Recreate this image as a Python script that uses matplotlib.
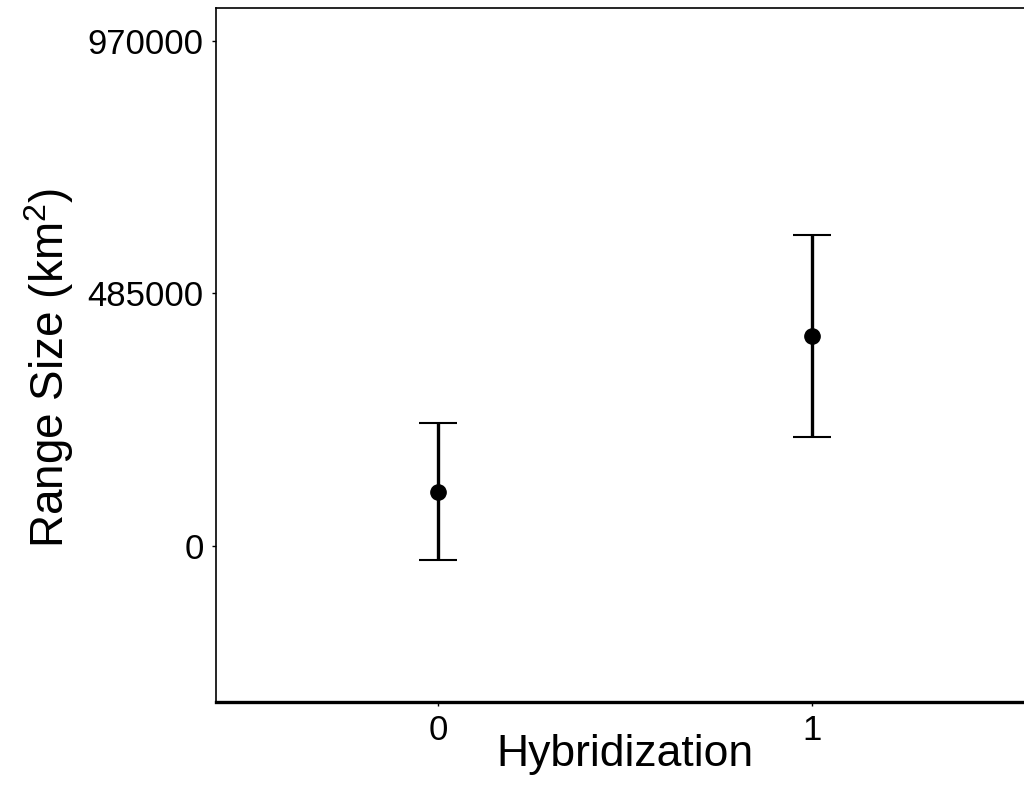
import matplotlib
matplotlib.use("Agg")
import matplotlib.pyplot as plt

# group means and +/- error
groups = [0, 1]
group_labels = ["0", "1"]
means = [103700, 403400]
errors = [131500, 194000]
y_ticks = [0, 485000, 970000]

plt.rcParams["font.family"] = ["Liberation Sans", "DejaVu Sans"]
plt.rcParams["mathtext.fontset"] = "custom"
plt.rcParams["mathtext.rm"] = "Liberation Sans"
plt.rcParams["mathtext.default"] = "regular"

fig = plt.figure(figsize=(10.24, 7.97), dpi=100)
ax = fig.add_axes([216 / 1024, 1 - 702 / 797, 1 - 216 / 1024, (702 - 8) / 797])

ax.errorbar(groups, means, yerr=errors, fmt="o", color="black",
            markersize=11, elinewidth=2.4, capsize=13.5, capthick=1.5)

ax.set_xlim(-0.594, 1.567)
ax.set_ylim(-300000, 1033000)
ax.set_xticks(groups)
ax.set_xticklabels(group_labels)
ax.set_yticks(y_ticks)
ax.set_yticklabels([str(t) for t in y_ticks])

ax.spines["right"].set_visible(False)
ax.spines["top"].set_linewidth(1.2)
ax.spines["left"].set_linewidth(1.2)
ax.spines["bottom"].set_linewidth(2.4)
ax.tick_params(axis="both", length=3, width=1, labelsize=25)
ax.tick_params(axis="x", pad=5.5)
ax.tick_params(axis="y", pad=6)

ax.set_xlabel("Hybridization", fontsize=32)
ax.set_ylabel("Range Size (km$^2$)", fontsize=33)
ax.xaxis.set_label_coords(0.506, -0.046)
ax.yaxis.set_label_coords(-0.173, 0.481)

fig.savefig("out.png", dpi=100)
